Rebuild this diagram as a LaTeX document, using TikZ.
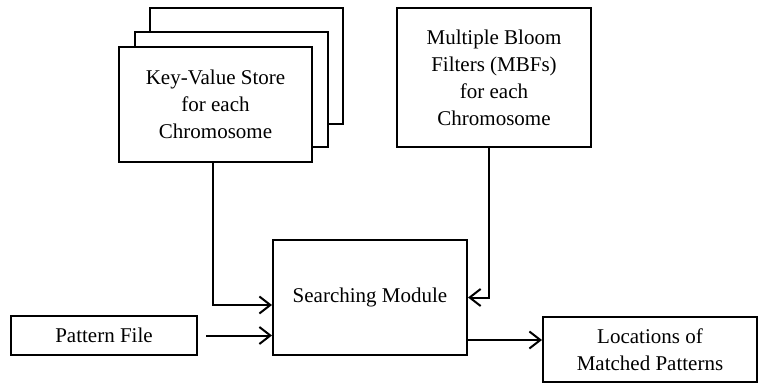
\documentclass[tikz,border=0pt]{standalone}
\usepackage{fontspec}
\setmainfont{Liberation Serif}
\usetikzlibrary{arrows.meta}

\begin{document}
\begin{tikzpicture}[
  x=1pt,y=-1pt,
  box/.style={draw,line width=2pt,fill=white,align=center,inner sep=2pt,
    font=\fontsize{21}{27}\selectfont},
  arr/.style={draw,line width=2pt,-{Straight Barb[length=11pt,width=17pt]}}]
  \useasboundingbox (0,0) rectangle (758,385);
  % key-value stores, stacked
  \node[box,minimum width=193pt,minimum height=116pt] (kvc) at (246.5,66) {};
  \node[box,minimum width=193pt,minimum height=115pt] (kvb) at (231.5,89.5) {};
  \node[box,minimum width=193pt,minimum height=115pt] (kv) at (215.5,104.5) {Key-Value Store\\for each\\Chromosome};
  \node[box,minimum width=194pt,minimum height=139pt] (mbf) at (494,77.5) {Multiple Bloom\\Filters (MBFs)\\for each\\Chromosome};
  \node[box,minimum width=194pt,minimum height=115pt] (sm) at (370,297.5) {Searching Module};
  \node[box,minimum width=186pt,minimum height=39pt] (pf) at (104,335.5) {Pattern File};
  \node[box,minimum width=214pt,minimum height=65pt] (loc) at (650,349.5) {Locations of\\Matched Patterns};
  \coordinate (out) at ([yshift=-42.5pt]sm.east);
  \draw[arr] ([xshift=-3pt]kv.south) |- ([yshift=-7.5pt]sm.west);
  \draw[arr] ([xshift=-5pt]mbf.south) |- (sm.east);
  \draw[arr] ([xshift=8pt]pf.east) -- (sm.west |- pf.east);
  \draw[arr] (out) -- (out -| loc.west);
\end{tikzpicture}
\end{document}
